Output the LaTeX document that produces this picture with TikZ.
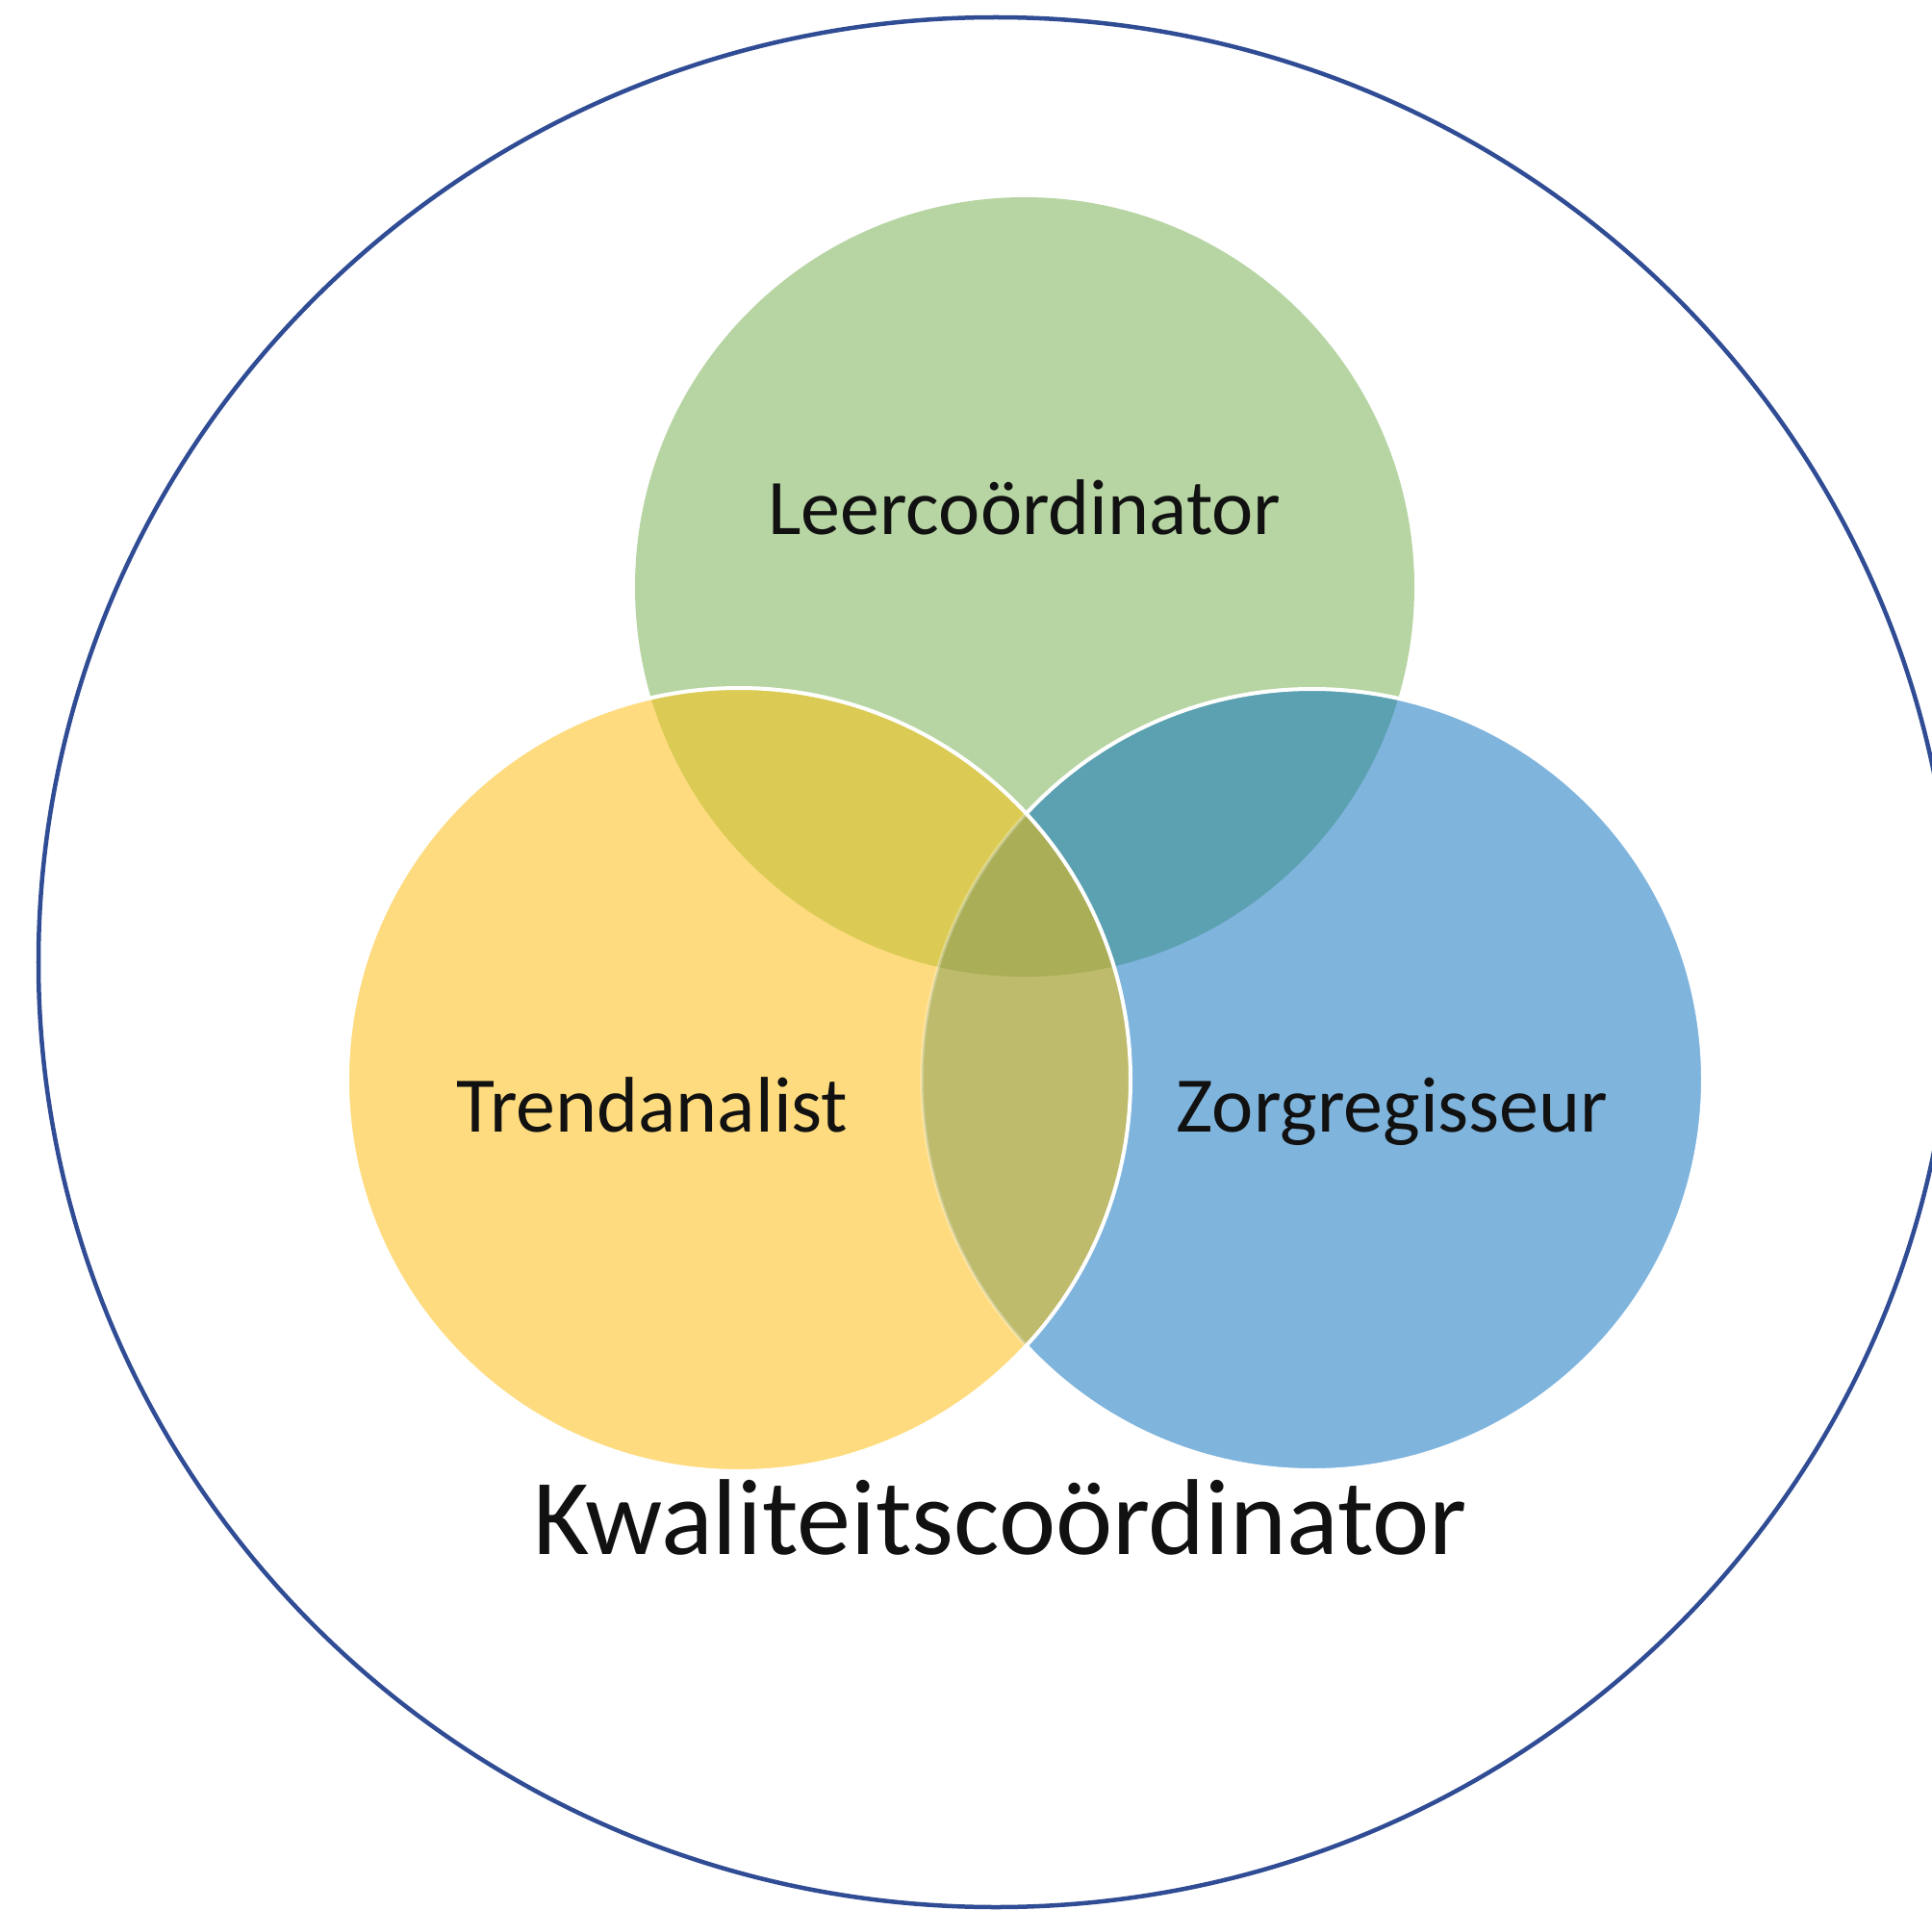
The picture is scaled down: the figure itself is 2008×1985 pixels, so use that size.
\documentclass[tikz,border=0pt]{standalone}
\usepackage{fontspec}
\setmainfont{Carlito}
\definecolor{cgreen}{HTML}{B7D5A3}
\definecolor{cyellow}{HTML}{FEDB7E}
\definecolor{cblue}{HTML}{7FB4DD}
\definecolor{cgy}{HTML}{DBCB55}
\definecolor{cgb}{HTML}{5BA1B1}
\definecolor{cyb}{HTML}{BEBB6C}
\definecolor{cgyb}{HTML}{AAAE57}
\definecolor{couter}{HTML}{2F4C94}
\definecolor{ctext}{HTML}{111111}
\tikzset{
  rolelabel/.style={anchor=base, text=ctext, inner sep=0pt, font=\fontsize{23.3}{28}\selectfont},
  mainlabel/.style={anchor=base, text=ctext, inner sep=0pt, font=\fontsize{31.9}{38}\selectfont},
  sep/.style={draw=white, line width=0.04cm},
}
\begin{document}
\begin{tikzpicture}[x=0.01cm,y=-0.01cm]
\clip (0,0) rectangle (2008,1985);
\fill[white] (0,0) rectangle (2008,1985);
\coordinate (G) at (1065,610);
\coordinate (Y) at (768,1122);
\coordinate (B) at (1364,1122);
\coordinate (O) at (1035,1000);
% outer circle
\draw[couter, line width=0.045cm] (O) ellipse [x radius=995, y radius=982];
% green
\fill[cgreen] (G) circle[radius=405];
% blue
\fill[cblue] (B) circle[radius=406];
\begin{scope}
  \clip (G) circle[radius=405];
  \fill[cgb] (B) circle[radius=406];
\end{scope}
\draw[sep] (B) circle[radius=406];
% yellow
\fill[cyellow] (Y) circle[radius=407];
\begin{scope}
  \clip (G) circle[radius=405];
  \fill[cgy] (Y) circle[radius=407];
\end{scope}
\begin{scope}
  \clip (B) circle[radius=406];
  \fill[cyb] (Y) circle[radius=407];
\end{scope}
\begin{scope}
  \clip (G) circle[radius=405];
  \clip (B) circle[radius=406];
  \fill[cgyb] (Y) circle[radius=407];
\end{scope}
\begin{scope}
  \clip (Y) circle[radius=407];
  \draw[draw=white, draw opacity=0.3, line width=0.035cm] (B) circle[radius=406];
\end{scope}
\draw[sep] (Y) circle[radius=407];
% labels
\node[rolelabel] (lc) at (1065,555) {Leercoördinator};
\node[rolelabel] (ta) at (678,1176) {Trendanalist};
\node[rolelabel] (zr) at (1447,1176) {Zorgregisseur};
\node[mainlabel] (kc) at (1040,1615) {Kwaliteitscoördinator};
\end{tikzpicture}
\end{document}
